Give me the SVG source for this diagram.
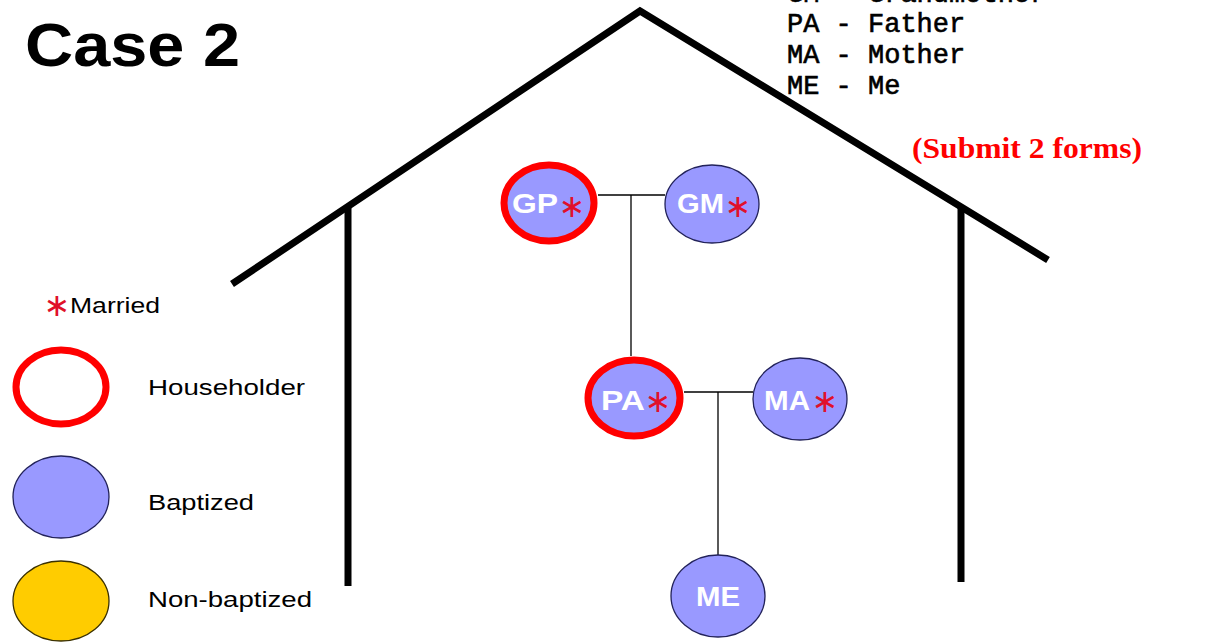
<svg xmlns="http://www.w3.org/2000/svg" width="1230" height="644" viewBox="0 0 1230 644">
<style>
.house{stroke:#000;stroke-width:7;fill:none;stroke-linecap:butt;stroke-linejoin:miter}
.conn{stroke:#000;stroke-width:1.3;fill:none}
.bap{fill:#9999ff;stroke:#22225a;stroke-width:1.3}
.hh{fill:#9999ff;stroke:#ff0000;stroke-width:7}
.lbl{font-family:"Liberation Sans",Arial,sans-serif;font-weight:bold;font-size:28px;fill:#fff}
.ast{font-family:"DejaVu Sans",sans-serif;font-size:32px;fill:#e0102a;text-anchor:middle}
.leg{font-family:"Liberation Sans",Arial,sans-serif;font-size:22px;fill:#000}
.mono{font-family:"Liberation Mono","Courier New",monospace;font-size:27px;fill:#000;stroke:#000;stroke-width:0.6}
</style>
<rect width="1230" height="644" fill="#fff"/>
<text x="25" y="66" font-family="Liberation Sans,Arial,sans-serif" font-weight="bold" font-size="62" textLength="215" lengthAdjust="spacingAndGlyphs">Case 2</text>
<g id="key">
<text class="mono" x="787" y="2">GM - Grandmother</text>
<text class="mono" x="787" y="32">PA - Father</text>
<text class="mono" x="787" y="63">MA - Mother</text>
<text class="mono" x="787" y="94">ME - Me</text>
</g>
<text x="912" y="158" font-family="Liberation Serif,Times New Roman,serif" font-weight="bold" font-size="30" fill="#ff0000" textLength="230" lengthAdjust="spacingAndGlyphs">(Submit 2 forms)</text>
<g id="house">
<polyline class="house" points="232,284 640,11 1048,260"/>
<line class="house" x1="348" y1="208" x2="348" y2="586"/>
<line class="house" x1="961" y1="208" x2="961" y2="582"/>
</g>
<g id="connectors">
<line class="conn" x1="598" y1="195" x2="665" y2="195"/>
<line class="conn" x1="631" y1="195" x2="631" y2="356"/>
<line class="conn" x1="684" y1="392" x2="753" y2="392"/>
<line class="conn" x1="718" y1="392" x2="718" y2="555"/>
</g>
<g id="node-GP">
<ellipse class="hh" cx="549" cy="203" rx="45" ry="38"/>
<text class="lbl" x="512" y="213" textLength="46" lengthAdjust="spacingAndGlyphs">GP</text>
<text class="ast" x="572" y="217">∗</text>
</g>
<g id="node-GM">
<ellipse class="bap" cx="712" cy="204" rx="47" ry="39"/>
<text class="lbl" x="677" y="213" textLength="47" lengthAdjust="spacingAndGlyphs">GM</text>
<text class="ast" x="738" y="217">∗</text>
</g>
<g id="node-PA">
<ellipse class="hh" cx="634" cy="398" rx="46" ry="38"/>
<text class="lbl" x="601" y="410" textLength="44" lengthAdjust="spacingAndGlyphs">PA</text>
<text class="ast" x="658" y="412">∗</text>
</g>
<g id="node-MA">
<ellipse class="bap" cx="800" cy="399" rx="47" ry="41"/>
<text class="lbl" x="764" y="410" textLength="46" lengthAdjust="spacingAndGlyphs">MA</text>
<text class="ast" x="825" y="412">∗</text>
</g>
<g id="node-ME">
<ellipse class="bap" cx="718" cy="596" rx="47" ry="41"/>
<text class="lbl" x="696" y="606" textLength="44" lengthAdjust="spacingAndGlyphs">ME</text>
</g>
<g id="legend">
<text class="ast" x="57" y="316">∗</text>
<text class="leg" x="70" y="313" textLength="90" lengthAdjust="spacingAndGlyphs">Married</text>
<ellipse cx="61" cy="387" rx="45" ry="37" fill="#fff" stroke="#ff0000" stroke-width="7"/>
<text class="leg" x="148" y="395" textLength="157" lengthAdjust="spacingAndGlyphs">Householder</text>
<ellipse class="bap" cx="61" cy="497" rx="48" ry="41"/>
<text class="leg" x="148" y="510" textLength="106" lengthAdjust="spacingAndGlyphs">Baptized</text>
<ellipse cx="61" cy="601" rx="48" ry="40" fill="#ffcc00" stroke="#3a3000" stroke-width="1.3"/>
<text class="leg" x="148" y="607" textLength="164" lengthAdjust="spacingAndGlyphs">Non-baptized</text>
</g>
</svg>
